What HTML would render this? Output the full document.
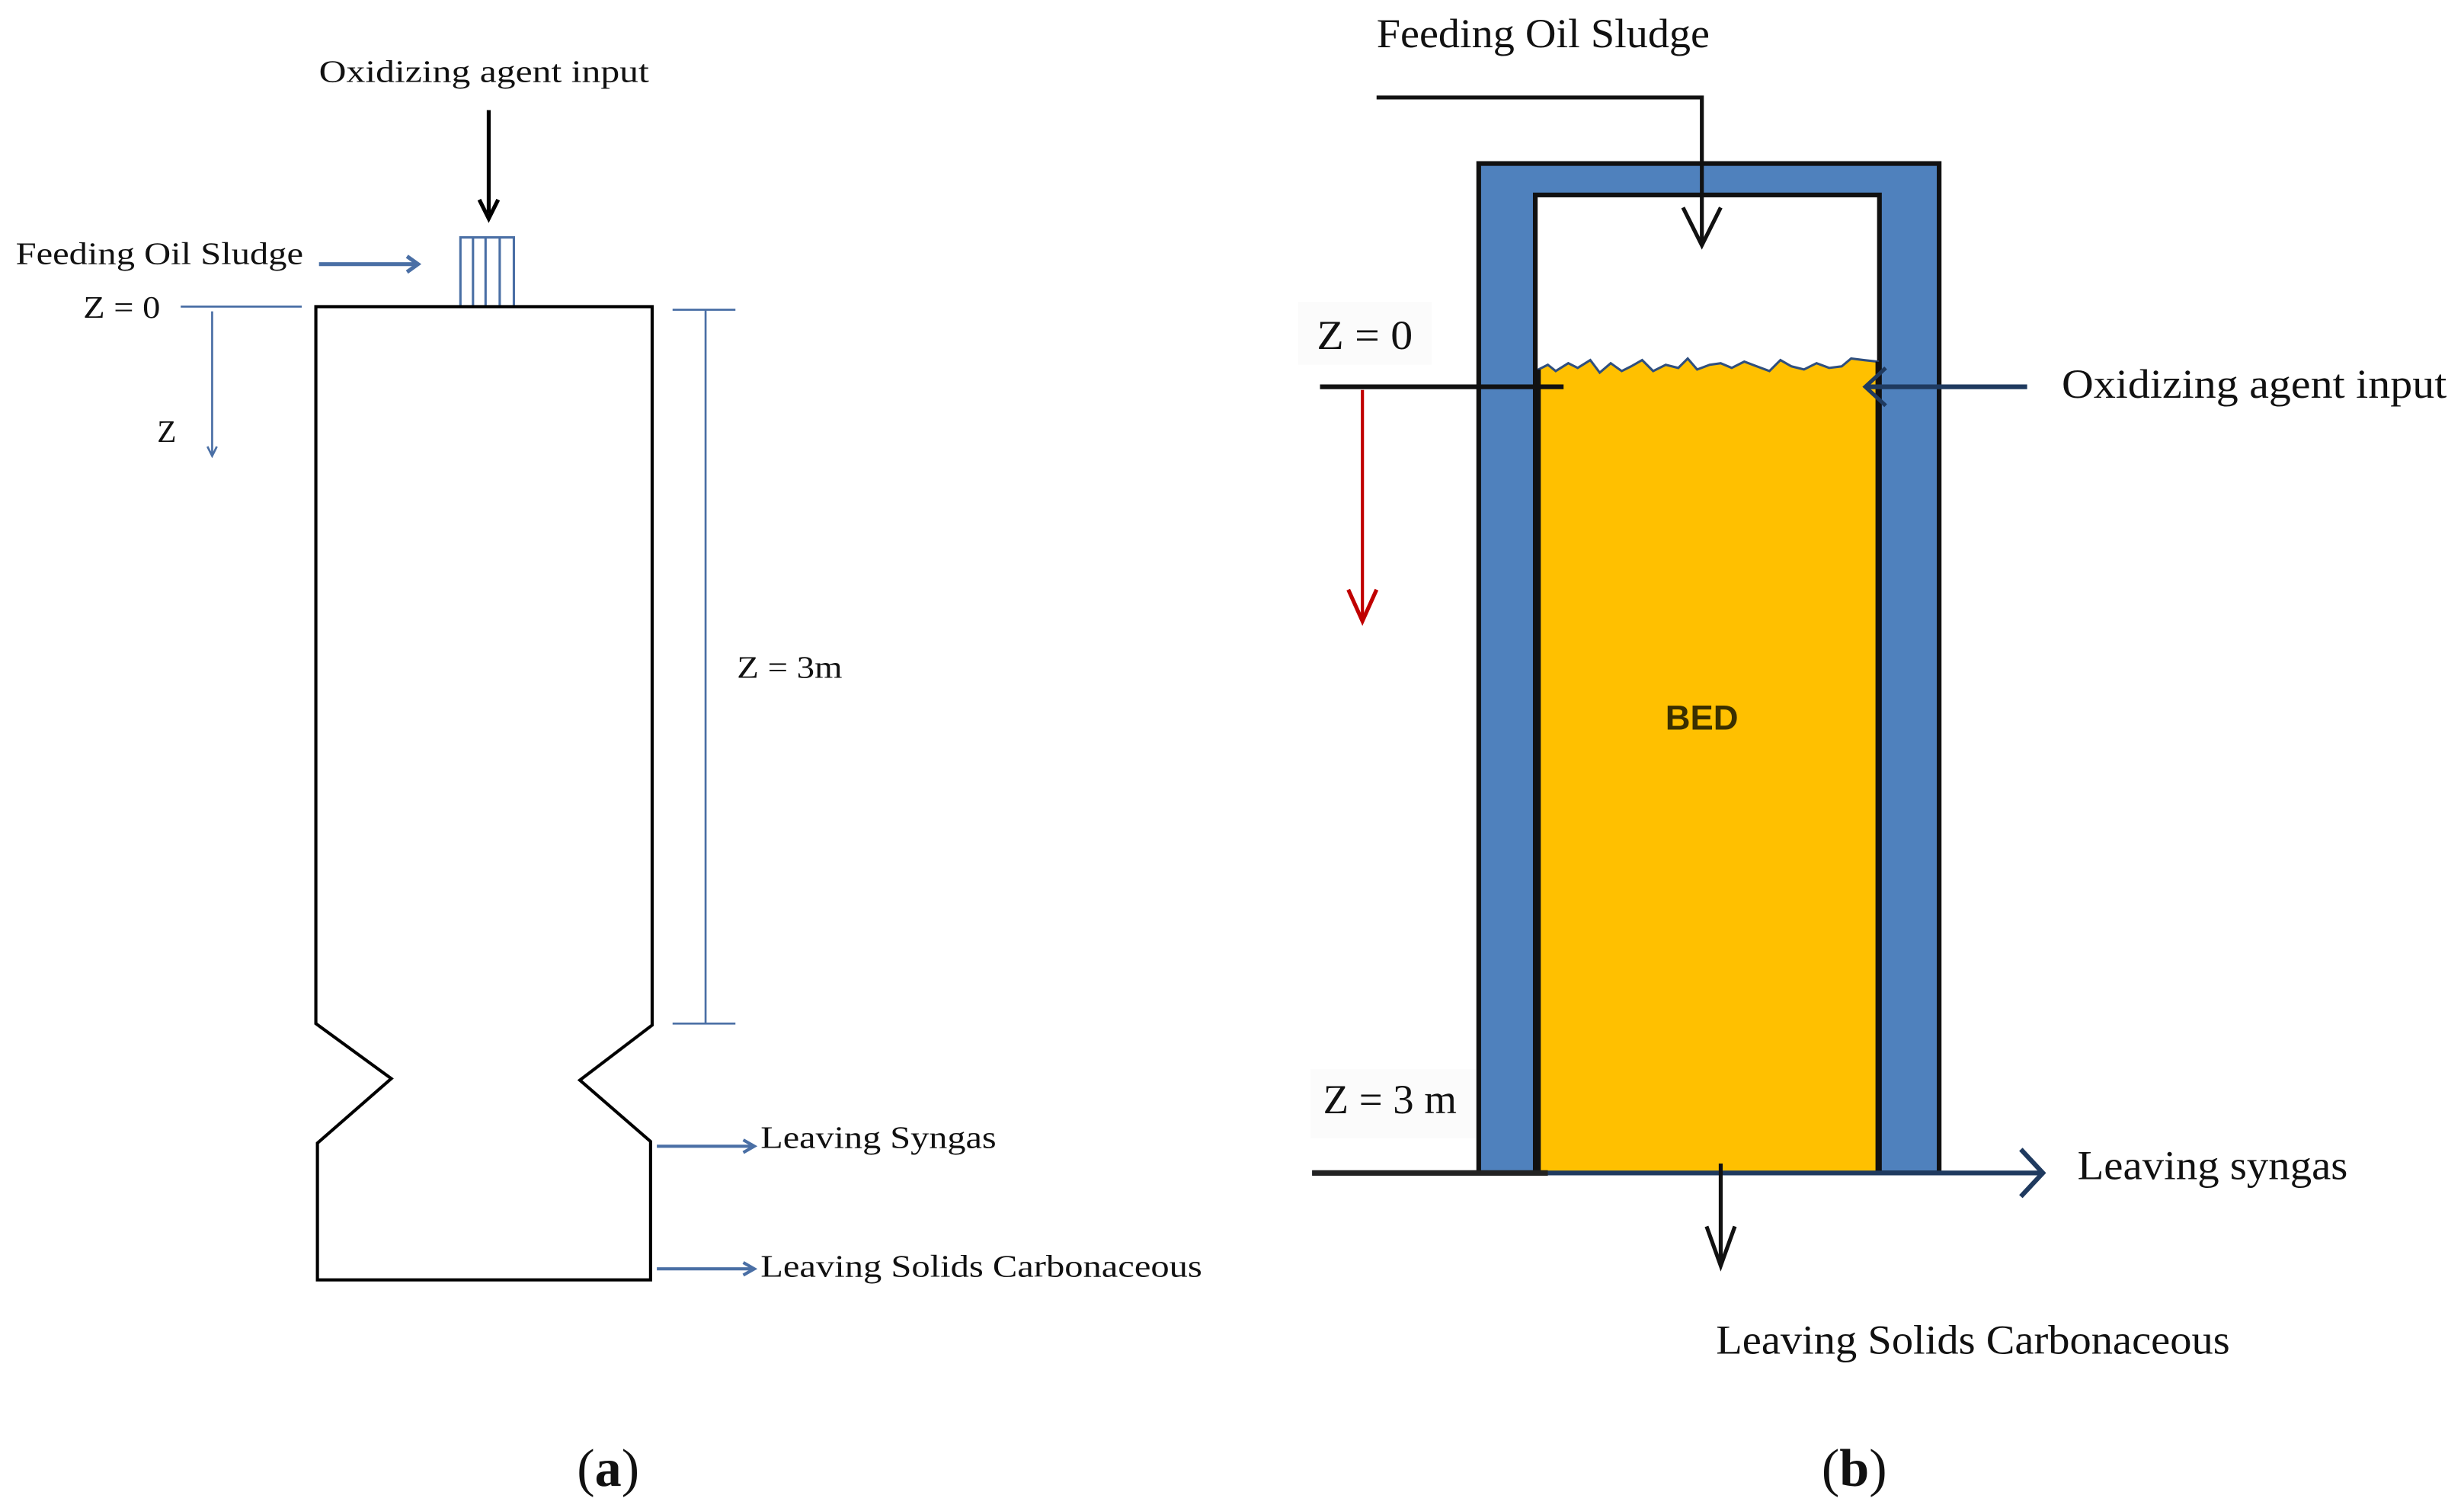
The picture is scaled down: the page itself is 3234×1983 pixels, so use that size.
<!DOCTYPE html>
<html><head><meta charset="utf-8"><style>
html,body{margin:0;padding:0;background:#fff;}
svg{display:block;}
text{font-family:"Liberation Serif",serif;fill:#111;}
</style></head><body>
<svg width="3234" height="1983" viewBox="0 0 1568 961" preserveAspectRatio="none" xmlns="http://www.w3.org/2000/svg">
<!-- Panel (a) -->
<text x="203" y="52" font-size="20" textLength="210" lengthAdjust="spacingAndGlyphs">Oxidizing agent input</text>
<line x1="311" y1="70" x2="311" y2="136" stroke="#000" stroke-width="2.5"/>
<polyline points="305,127 311,139 317,127" fill="none" stroke="#000" stroke-width="2.5"/>
<g stroke="#4a6fa5" stroke-width="1.5" fill="none">
<polyline points="293,195 293,151 327,151 327,195"/>
<line x1="301" y1="151" x2="301" y2="195"/>
<line x1="309" y1="151" x2="309" y2="195"/>
<line x1="318" y1="151" x2="318" y2="195"/>
</g>
<text x="10" y="168" font-size="20" textLength="183" lengthAdjust="spacingAndGlyphs">Feeding Oil Sludge</text>
<line x1="203" y1="168" x2="264" y2="168" stroke="#4a6fa5" stroke-width="2.5"/>
<polyline points="259,163 266,168 259,173" fill="none" stroke="#4a6fa5" stroke-width="2.5"/>
<text x="53" y="202" font-size="20" textLength="49" lengthAdjust="spacingAndGlyphs">Z = 0</text>
<line x1="115" y1="195" x2="192" y2="195" stroke="#4a6fa5" stroke-width="1.3"/>
<line x1="135" y1="198" x2="135" y2="290" stroke="#4a6fa5" stroke-width="1.3"/>
<polyline points="132,284 135,290 138,284" fill="none" stroke="#4a6fa5" stroke-width="1.3"/>
<text x="100" y="281" font-size="20">Z</text>
<polygon points="201,195 415,195 415,652 369,687 414,726 414,814 202,814 202,727 249,686 201,651" fill="none" stroke="#000" stroke-width="2"/>
<g stroke="#4a6fa5" stroke-width="1.3">
<line x1="428" y1="197" x2="468" y2="197"/>
<line x1="449" y1="197" x2="449" y2="651"/>
<line x1="428" y1="651" x2="468" y2="651"/>
</g>
<text x="469" y="431" font-size="20" textLength="67" lengthAdjust="spacingAndGlyphs">Z = 3m</text>
<line x1="418" y1="729" x2="478" y2="729" stroke="#4a6fa5" stroke-width="2"/>
<polyline points="473,725 480,729 473,733" fill="none" stroke="#4a6fa5" stroke-width="2"/>
<text x="484" y="730" font-size="20" textLength="150" lengthAdjust="spacingAndGlyphs">Leaving Syngas</text>
<line x1="418" y1="807" x2="478" y2="807" stroke="#4a6fa5" stroke-width="2"/>
<polyline points="473,803 480,807 473,811" fill="none" stroke="#4a6fa5" stroke-width="2"/>
<text x="484" y="812" font-size="20" textLength="281" lengthAdjust="spacingAndGlyphs">Leaving Solids Carbonaceous</text>
<text x="387" y="945" font-size="34" text-anchor="middle">(<tspan font-weight="bold">a</tspan>)</text>

<!-- Panel (b) -->
<text x="876" y="30" font-size="26" textLength="212" lengthAdjust="spacingAndGlyphs">Feeding Oil Sludge</text>
<rect x="941" y="104" width="293" height="642" fill="#4f81bd" stroke="#111" stroke-width="3"/>
<rect x="977" y="124" width="219" height="622" fill="#fff" stroke="#111" stroke-width="3"/>
<path d="M979,746 L979,235 L985,232 L990,236 L998,231 L1004,234 L1012,229 L1018,237 L1025,231 L1032,236 L1038,233 L1045,229 L1052,236 L1060,232 L1068,234 L1074,228 L1080,235 L1088,232 L1095,231 L1102,234 L1110,230 L1118,233 L1126,236 L1133,229 L1140,233 L1148,235 L1156,231 L1164,234 L1172,233 L1178,228 L1186,229 L1195,230 L1195,746 Z" fill="#ffc000" stroke="#2f4f7f" stroke-width="1.5"/>
<line x1="979" y1="235" x2="979" y2="746" stroke="#111" stroke-width="3"/>
<line x1="1195" y1="230" x2="1195" y2="746" stroke="#111" stroke-width="3"/>
<polyline points="876,62 1083,62 1083,155" fill="none" stroke="#111" stroke-width="2.5"/>
<polyline points="1071,132 1083,156 1095,132" fill="none" stroke="#111" stroke-width="2.5"/>
<rect x="826" y="192" width="85" height="40" fill="#fbfbfb"/>
<text x="838" y="222" font-size="26" textLength="61" lengthAdjust="spacingAndGlyphs">Z = 0</text>
<line x1="840" y1="246" x2="995" y2="246" stroke="#111" stroke-width="3"/>
<line x1="867" y1="248" x2="867" y2="394" stroke="#c00000" stroke-width="2"/>
<polyline points="858,375 867,395 876,375" fill="none" stroke="#c00000" stroke-width="2.5"/>
<line x1="1188" y1="246" x2="1290" y2="246" stroke="#1f3a5f" stroke-width="3"/>
<polyline points="1200,234 1187,246 1200,258" fill="none" stroke="#1f3a5f" stroke-width="2.5"/>
<text x="1312" y="253" font-size="26" textLength="245" lengthAdjust="spacingAndGlyphs">Oxidizing agent input</text>
<text x="1083" y="464" font-size="22" font-weight="bold" text-anchor="middle" style="font-family:'Liberation Sans',sans-serif;fill:#3a2f00">BED</text>
<rect x="834" y="680" width="105" height="44" fill="#fbfbfb"/>
<text x="842" y="708" font-size="26" textLength="85" lengthAdjust="spacingAndGlyphs">Z = 3 m</text>
<line x1="835" y1="746" x2="1298" y2="746" stroke="#1f3a5f" stroke-width="3"/>
<line x1="835" y1="746" x2="985" y2="746" stroke="#222" stroke-width="3.5"/>
<polyline points="1286,731 1300,746 1286,761" fill="none" stroke="#1f3a5f" stroke-width="3"/>
<line x1="1095" y1="740" x2="1095" y2="804" stroke="#111" stroke-width="2.5"/>
<polyline points="1086,780 1095,805 1104,780" fill="none" stroke="#111" stroke-width="2.5"/>
<text x="1322" y="750" font-size="26" textLength="172" lengthAdjust="spacingAndGlyphs">Leaving syngas</text>
<text x="1092" y="861" font-size="26" textLength="327" lengthAdjust="spacingAndGlyphs">Leaving Solids Carbonaceous</text>
<text x="1180" y="945" font-size="34" text-anchor="middle">(<tspan font-weight="bold">b</tspan>)</text>
</svg>
</body></html>
